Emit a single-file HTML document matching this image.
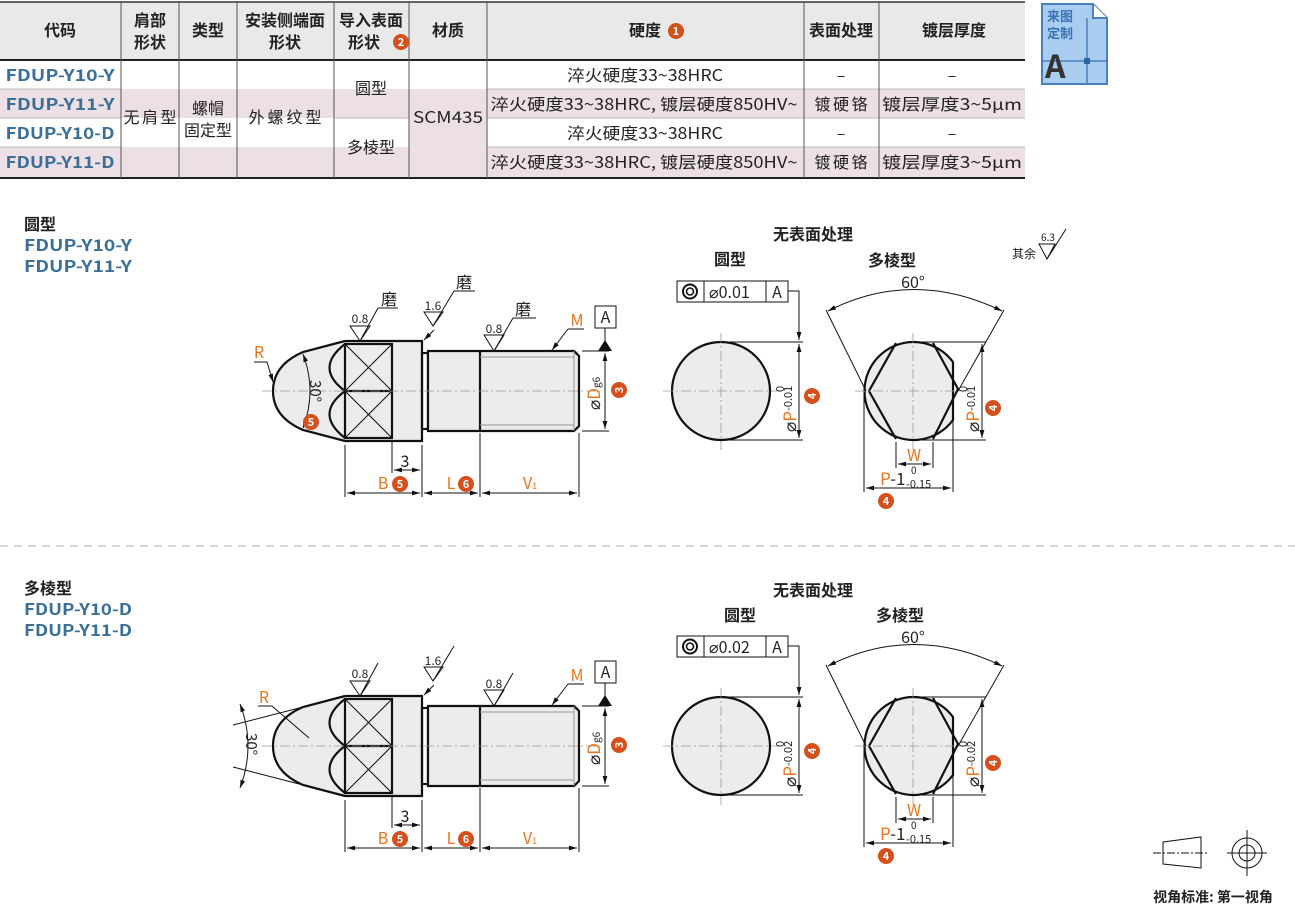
<!DOCTYPE html>
<html><head><meta charset="utf-8"><style>
html,body{margin:0;padding:0;background:#fff;}
svg{display:block;font-family:"Noto Sans CJK SC","Liberation Sans",sans-serif;}
.h{font-weight:bold;font-size:16px;fill:#222;}
.c{font-size:16px;fill:#222;}
.code{font-weight:bold;font-size:16px;fill:#3b6f98;}
.o{fill:#e8741c;}
.t{stroke:#111;stroke-width:1;fill:none;}
.th{stroke:#111;stroke-width:2.2;fill:none;}
.cl{stroke:#999;stroke-width:0.8;stroke-dasharray:10 3 2 3;fill:none;}
</style></head><body>
<svg width="1295" height="906" viewBox="0 0 1295 906" xmlns="http://www.w3.org/2000/svg">
<defs>
<marker id="ar" viewBox="0 0 10 10" refX="10" refY="5" markerWidth="8" markerHeight="8" orient="auto-start-reverse"><path d="M0,2 L10,5 L0,8 z" fill="#111"/></marker>
<g id="b"><circle r="8" fill="#d4501c"/></g>
</defs>

<!-- TABLE -->
<rect x="0" y="2" width="1025" height="58" fill="#e9e9e9"/>
<rect x="0" y="89" width="1025" height="29" fill="#ecdfe5"/>
<rect x="0" y="147" width="1025" height="30" fill="#ecdfe5"/>
<rect x="121" y="60" width="288" height="29" fill="#fff"/>
<rect x="409" y="118" width="78" height="29" fill="#ecdfe5"/>
<g stroke="#555" stroke-width="1">
<line x1="0" y1="2" x2="1025" y2="2" stroke="#333" stroke-width="1.5"/>
<line x1="0" y1="60" x2="1025" y2="60" stroke="#222" stroke-width="2"/>
<line x1="0" y1="178" x2="1025" y2="178" stroke="#222" stroke-width="2"/>
<line x1="0" y1="89" x2="121" y2="89" stroke="#bbb"/><line x1="0" y1="118" x2="121" y2="118" stroke="#bbb"/><line x1="0" y1="147" x2="121" y2="147" stroke="#bbb"/>
<line x1="487" y1="89" x2="1025" y2="89" stroke="#bbb"/><line x1="487" y1="118" x2="1025" y2="118" stroke="#bbb"/><line x1="487" y1="147" x2="1025" y2="147" stroke="#bbb"/>
<line x1="334" y1="118" x2="409" y2="118" stroke="#bbb"/>
<line x1="121" y1="2" x2="121" y2="178"/><line x1="179" y1="2" x2="179" y2="178"/><line x1="237" y1="2" x2="237" y2="178"/>
<line x1="334" y1="2" x2="334" y2="178"/><line x1="409" y1="2" x2="409" y2="178"/><line x1="487" y1="2" x2="487" y2="178"/>
<line x1="804" y1="2" x2="804" y2="178"/><line x1="879" y1="2" x2="879" y2="178"/>
</g>
<g text-anchor="middle">
<text class="h" x="60" y="36">代码</text>
<text class="h" x="150" y="26">肩部</text><text class="h" x="150" y="48">形状</text>
<text class="h" x="208" y="36">类型</text>
<text class="h" x="285" y="26">安装侧端面</text><text class="h" x="285" y="48">形状</text>
<text class="h" x="371" y="26">导入表面</text><text class="h" x="364" y="48">形状</text>
<text class="h" x="448" y="36">材质</text>
<text class="h" x="645" y="36">硬度</text>
<text class="h" x="841" y="36">表面处理</text>
<text class="h" x="954" y="36">镀层厚度</text>
<text class="code" x="60" y="81" textLength="109" lengthAdjust="spacingAndGlyphs">FDUP-Y10-Y</text>
<text class="code" x="60" y="110" textLength="109" lengthAdjust="spacingAndGlyphs">FDUP-Y11-Y</text>
<text class="code" x="60" y="139" textLength="109" lengthAdjust="spacingAndGlyphs">FDUP-Y10-D</text>
<text class="code" x="60" y="168" textLength="109" lengthAdjust="spacingAndGlyphs">FDUP-Y11-D</text>
<text class="c" x="150" y="123" textLength="53">无肩型</text>
<text class="c" x="208" y="114">螺帽</text><text class="c" x="208" y="136">固定型</text>
<text class="c" x="285" y="123" textLength="73">外螺纹型</text>
<text class="c" x="371" y="94">圆型</text>
<text class="c" x="371" y="153">多棱型</text>
<text class="c" x="448" y="123" textLength="70" lengthAdjust="spacingAndGlyphs">SCM435</text>
<text class="c" x="645" y="81" textLength="156" lengthAdjust="spacingAndGlyphs">淬火硬度33~38HRC</text>
<text class="c" x="644" y="110" textLength="307" lengthAdjust="spacingAndGlyphs">淬火硬度33~38HRC, 镀层硬度850HV~</text>
<text class="c" x="645" y="139" textLength="156" lengthAdjust="spacingAndGlyphs">淬火硬度33~38HRC</text>
<text class="c" x="644" y="168" textLength="307" lengthAdjust="spacingAndGlyphs">淬火硬度33~38HRC, 镀层硬度850HV~</text>
<text class="c" x="841" y="81">–</text><text class="c" x="841" y="110" textLength="53">镀硬铬</text><text class="c" x="841" y="139">–</text><text class="c" x="841" y="168" textLength="53">镀硬铬</text>
<text class="c" x="952" y="81">–</text><text class="c" x="952" y="110" textLength="140" lengthAdjust="spacingAndGlyphs">镀层厚度3~5μm</text><text class="c" x="952" y="139">–</text><text class="c" x="952" y="168" textLength="140" lengthAdjust="spacingAndGlyphs">镀层厚度3~5μm</text>
</g>
<use href="#b" x="401" y="42"/><text x="401" y="46" font-size="11" font-weight="bold" fill="#fff" text-anchor="middle">2</text>
<use href="#b" x="676" y="31"/><text x="676" y="35" font-size="11" font-weight="bold" fill="#fff" text-anchor="middle">1</text>

<!-- logo -->
<path d="M1042,4 H1093 L1107,18 V84 H1042 Z" fill="#a8cdef" stroke="#4b80c0" stroke-width="2"/>
<path d="M1093,4 V18 H1107" fill="#fff" stroke="#4b80c0" stroke-width="2"/>
<line x1="1042" y1="61" x2="1107" y2="61" stroke="#4b80c0" stroke-width="1.5"/>
<line x1="1087" y1="18" x2="1087" y2="84" stroke="#4b80c0" stroke-width="1.5"/>
<rect x="1084" y="58" width="6" height="6" fill="#2a62a8"/>
<text x="1047" y="21" font-size="13" font-weight="bold" fill="#3a72b8">来图</text>
<text x="1047" y="38" font-size="13" font-weight="bold" fill="#3a72b8">定制</text>
<text x="1045" y="78" font-size="32" font-weight="bold" fill="#333">A</text>

<!-- left labels -->
<text x="24" y="230" font-size="16" font-weight="bold" fill="#222">圆型</text>
<text x="24" y="251" class="code" textLength="108" lengthAdjust="spacingAndGlyphs">FDUP-Y10-Y</text>
<text x="24" y="272" class="code" textLength="108" lengthAdjust="spacingAndGlyphs">FDUP-Y11-Y</text>
<text x="24" y="594" font-size="16" font-weight="bold" fill="#222">多棱型</text>
<text x="24" y="615" class="code" textLength="108" lengthAdjust="spacingAndGlyphs">FDUP-Y10-D</text>
<text x="24" y="636" class="code" textLength="108" lengthAdjust="spacingAndGlyphs">FDUP-Y11-D</text>

<line x1="0" y1="546" x2="1295" y2="546" stroke="#aaa" stroke-width="1" stroke-dasharray="8 6"/>

<!-- PART body (top) -->
<g id="part">
<path d="M345,341 L303,352 Q273,365 273,391 Q273,417 303,430 L345,441 Z" fill="#ececec" stroke="none"/>
<path d="M345,341 L303,352 Q273,365 273,391 Q273,417 303,430 L345,441" class="th"/>
<rect x="345" y="341" width="77" height="100" fill="#ececec"/>
<rect x="422" y="353" width="6" height="76" fill="#ececec" class="th"/>
<rect x="428" y="351" width="151" height="80" fill="#ececec"/>
<path d="M345,341 H422 V441 H345" class="th"/>
<path d="M428,351 H574 L579,356 V426 L574,431 H428 Z" class="th"/>
<line x1="480" y1="351" x2="480" y2="431" class="th" stroke-width="1.5"/>
<line x1="480" y1="357" x2="574" y2="357" stroke="#999" stroke-width="1"/>
<line x1="480" y1="425" x2="574" y2="425" stroke="#999" stroke-width="1"/>
<line x1="574" y1="351" x2="574" y2="431" stroke="#999" stroke-width="1"/>
<rect x="345" y="344" width="47" height="94" class="th" stroke-width="1.8"/>
<line x1="345" y1="391" x2="392" y2="391" class="th" stroke-width="1.8"/>
<g class="t"><line x1="345" y1="344" x2="392" y2="391"/><line x1="392" y1="344" x2="345" y2="391"/><line x1="345" y1="391" x2="392" y2="438"/><line x1="392" y1="391" x2="345" y2="438"/></g>
<path d="M345,344 Q314,368 345,391 Q314,414 345,438" class="th"/>
<line x1="262" y1="391" x2="600" y2="391" class="cl"/>
<!-- dims -->
<g class="t">
<line x1="345" y1="445" x2="345" y2="497"/><line x1="422" y1="445" x2="422" y2="497"/><line x1="480" y1="433" x2="480" y2="497"/><line x1="579" y1="433" x2="579" y2="497"/>
<line x1="392" y1="440" x2="392" y2="473"/>
<line x1="347" y1="493" x2="420" y2="493" marker-start="url(#ar)" marker-end="url(#ar)"/>
<line x1="424" y1="493" x2="478" y2="493" marker-start="url(#ar)" marker-end="url(#ar)"/>
<line x1="482" y1="493" x2="577" y2="493" marker-start="url(#ar)" marker-end="url(#ar)"/>
<line x1="394" y1="470" x2="420" y2="470" marker-start="url(#ar)" marker-end="url(#ar)"/>
<line x1="582" y1="351" x2="609" y2="351"/><line x1="582" y1="431" x2="609" y2="431"/>
<line x1="605" y1="353" x2="605" y2="429" marker-start="url(#ar)" marker-end="url(#ar)"/>
</g>
<text x="405" y="467" font-size="16" fill="#222" text-anchor="middle">3</text>
<text x="383" y="489" font-size="16" class="o" text-anchor="middle">B</text>
<use href="#b" x="400" y="484"/><text x="400" y="488" font-size="11" font-weight="bold" fill="#fff" text-anchor="middle">5</text>
<text x="451" y="489" font-size="16" class="o" text-anchor="middle">L</text>
<use href="#b" x="466" y="484"/><text x="466" y="488" font-size="11" font-weight="bold" fill="#fff" text-anchor="middle">6</text>
<text x="530" y="489" font-size="16" class="o" text-anchor="middle">V<tspan font-size="9">1</tspan></text>
<text transform="translate(600,410) rotate(-90)" font-size="17" fill="#222">⌀<tspan class="o">D</tspan><tspan font-size="10">g6</tspan></text>
<use href="#b" x="619" y="390"/><text x="619" y="394" font-size="11" font-weight="bold" fill="#fff" text-anchor="middle" transform="rotate(-90 619 390)">3</text>
<rect x="595" y="306" width="21" height="22" fill="#fff" stroke="#111"/>
<text x="605.5" y="323" font-size="16" fill="#222" text-anchor="middle">A</text>
<line x1="605" y1="328" x2="605" y2="341" class="t"/>
<path d="M598,351 L605,340 L612,351 Z" fill="#111"/>
<!-- 0.8 shank -->
<path d="M484,335 L494,351 L504,335 Z" class="t"/><line x1="494" y1="351" x2="513" y2="318" class="t"/>
<text x="494" y="333" font-size="12" fill="#222" text-anchor="middle">0.8</text>
<!-- 1.6 -->
<path d="M424,312 L433,326 L443,312 Z" class="t"/><line x1="433" y1="326" x2="454" y2="291" class="t"/>
<text x="433" y="310" font-size="12" fill="#222" text-anchor="middle">1.6</text>
<line x1="434" y1="330" x2="424" y2="340" class="t" marker-end="url(#ar)"/>
<!-- 0.8 head -->
<path d="M350,326 L360,341 L370,326 Z" class="t"/><line x1="360" y1="341" x2="378" y2="308" class="t"/>
<text x="360" y="323" font-size="12" fill="#222" text-anchor="middle">0.8</text>
<!-- M -->
<text x="577" y="326" font-size="16" class="o" text-anchor="middle">M</text>
<line x1="568" y1="329" x2="584" y2="329" class="t"/><line x1="568" y1="329" x2="552" y2="350" class="t" marker-end="url(#ar)"/>
</g>

<!-- top-only annotations -->
<line x1="378" y1="308" x2="398" y2="308" class="t"/><text x="389" y="305" font-size="16" fill="#222" text-anchor="middle">磨</text>
<line x1="454" y1="291" x2="475" y2="291" class="t"/><text x="464" y="288" font-size="16" fill="#222" text-anchor="middle">磨</text>
<line x1="513" y1="318" x2="536" y2="318" class="t"/><text x="523" y="315" font-size="16" fill="#222" text-anchor="middle">磨</text>
<text x="259" y="358" font-size="16" class="o" text-anchor="middle">R</text>
<path d="M254,362 H267 L273,382" class="t" marker-end="url(#ar)"/>
<path d="M303,354 Q317,391 303,428" class="t" marker-start="url(#ar)" marker-end="url(#ar)"/>
<text transform="translate(310,380) rotate(90)" font-size="15" fill="#222">30°</text>
<use href="#b" x="311" y="422"/><text x="311" y="426" font-size="11" font-weight="bold" fill="#fff" text-anchor="middle">5</text>

<!-- bottom part -->
<use href="#part" y="355"/>
<text x="264" y="703" font-size="16" class="o" text-anchor="middle">R</text>
<path d="M258,706 H272 L309,738" class="t"/>
<g class="t">
<line x1="303" y1="707" x2="233" y2="725"/><line x1="303" y1="785" x2="233" y2="767"/>
<path d="M240,704 Q256,746 240,788" marker-start="url(#ar)" marker-end="url(#ar)"/>
</g>
<text transform="translate(246,733) rotate(90)" font-size="15" fill="#222">30°</text>

<!-- RIGHT VIEWS top -->
<g id="rv">
<circle cx="721" cy="391" r="49" fill="#ececec" stroke="#111" stroke-width="2.2"/>
<line x1="663" y1="391" x2="780" y2="391" class="cl"/><line x1="721" y1="333" x2="721" y2="450" class="cl"/>
<rect x="677" y="281" width="111" height="21" fill="#fff" stroke="#111"/>
<line x1="704" y1="281" x2="704" y2="302" stroke="#111"/><line x1="766" y1="281" x2="766" y2="302" stroke="#111"/>
<circle cx="690" cy="291.5" r="7" fill="none" stroke="#111" stroke-width="2"/><circle cx="690" cy="291.5" r="3.5" fill="none" stroke="#111" stroke-width="1.6"/>
<text x="777" y="298" font-size="16" fill="#222" text-anchor="middle">A</text>
<path d="M788,291 H799 V340" class="t" marker-end="url(#ar)"/>
<line x1="721" y1="342" x2="803" y2="342" class="t"/><line x1="721" y1="440" x2="803" y2="440" class="t"/>
<line x1="799" y1="344" x2="799" y2="438" class="t" marker-start="url(#ar)" marker-end="url(#ar)"/>
<use href="#b" x="812" y="396"/><text x="812" y="400" font-size="11" font-weight="bold" fill="#fff" text-anchor="middle" transform="rotate(-90 812 396)">4</text>
<!-- hex -->
<path d="M953,362 A49,49 0 1 0 953,420 Z" fill="#ececec" stroke="#111" stroke-width="2.2"/>
<path d="M896,343 L869,391 L896,439 M933,343 L958,389 L933,439" class="th"/>
<line x1="855" y1="391" x2="972" y2="391" class="cl"/><line x1="913" y1="333" x2="913" y2="450" class="cl"/>
<g class="t">
<line x1="913" y1="342" x2="986" y2="342"/><line x1="913" y1="440" x2="986" y2="440"/>
<line x1="982" y1="344" x2="982" y2="438" marker-start="url(#ar)" marker-end="url(#ar)"/>
<line x1="866" y1="391" x2="826" y2="310"/><line x1="958" y1="391" x2="1004" y2="310"/>
<path d="M828,311 Q913,268 1002,311" marker-start="url(#ar)" marker-end="url(#ar)"/>
<line x1="896" y1="442" x2="896" y2="468"/><line x1="933" y1="442" x2="933" y2="468"/>
<line x1="898" y1="464" x2="931" y2="464" marker-start="url(#ar)" marker-end="url(#ar)"/>
<line x1="864" y1="393" x2="864" y2="492"/><line x1="953" y1="420" x2="953" y2="492"/>
<line x1="866" y1="488" x2="951" y2="488" marker-start="url(#ar)" marker-end="url(#ar)"/>
</g>
<text x="913" y="288" font-size="16" fill="#222" text-anchor="middle">60°</text>
<text x="914" y="461" font-size="16" class="o" text-anchor="middle">W</text>
<text x="880" y="485" font-size="17" fill="#222"><tspan class="o">P</tspan>-1</text>
<text x="911" y="474" font-size="10" fill="#222">0</text>
<text x="906" y="488" font-size="11" fill="#222">-0.15</text>
<use href="#b" x="886" y="501"/><text x="886" y="505" font-size="11" font-weight="bold" fill="#fff" text-anchor="middle">4</text>
<use href="#b" x="993" y="408"/><text x="993" y="412" font-size="11" font-weight="bold" fill="#fff" text-anchor="middle" transform="rotate(-90 993 408)">4</text>
</g>
<text x="813" y="240" font-size="16" font-weight="bold" fill="#222" text-anchor="middle">无表面处理</text>
<text x="730" y="265" font-size="16" font-weight="bold" fill="#222" text-anchor="middle">圆型</text>
<text x="892" y="266" font-size="16" font-weight="bold" fill="#222" text-anchor="middle">多棱型</text>
<text x="709" y="298" font-size="16" fill="#222">⌀0.01</text>
<text transform="translate(796,432) rotate(-90)" font-size="17" fill="#222">⌀<tspan class="o">P</tspan><tspan font-size="11" dy="-4">-0.01</tspan></text>
<text transform="translate(784,392) rotate(-90)" font-size="11" fill="#222">0</text>
<text transform="translate(979,432) rotate(-90)" font-size="17" fill="#222">⌀<tspan class="o">P</tspan><tspan font-size="11" dy="-4">-0.01</tspan></text>
<text transform="translate(967,392) rotate(-90)" font-size="11" fill="#222">0</text>

<use href="#rv" y="355"/>
<text x="813" y="596" font-size="16" font-weight="bold" fill="#222" text-anchor="middle">无表面处理</text>
<text x="740" y="621" font-size="16" font-weight="bold" fill="#222" text-anchor="middle">圆型</text>
<text x="900" y="621" font-size="16" font-weight="bold" fill="#222" text-anchor="middle">多棱型</text>
<text x="709" y="653" font-size="16" fill="#222">⌀0.02</text>
<text transform="translate(796,787) rotate(-90)" font-size="17" fill="#222">⌀<tspan class="o">P</tspan><tspan font-size="11" dy="-4">-0.02</tspan></text>
<text transform="translate(784,747) rotate(-90)" font-size="11" fill="#222">0</text>
<text transform="translate(979,787) rotate(-90)" font-size="17" fill="#222">⌀<tspan class="o">P</tspan><tspan font-size="11" dy="-4">-0.02</tspan></text>
<text transform="translate(967,747) rotate(-90)" font-size="11" fill="#222">0</text>

<!-- 其余 -->
<text x="1012" y="258" font-size="12" fill="#222">其余</text>
<path d="M1039,244 L1047,259 L1055,244 Z M1047,259 L1066,229" class="t"/>
<text x="1048" y="241" font-size="10" fill="#222" text-anchor="middle">6.3</text>

<!-- view standard -->
<g class="t" stroke-width="1">
<path d="M1163,842 L1201,837 L1201,868 L1163,864 Z"/>
<line x1="1153" y1="853" x2="1208" y2="853" stroke-dasharray="8 2 2 2"/>
<circle cx="1247" cy="853" r="15"/><circle cx="1247" cy="853" r="8"/>
<line x1="1227" y1="853" x2="1267" y2="853"/><line x1="1247" y1="830" x2="1247" y2="876"/>
</g>
<text x="1213" y="902" font-size="14" font-weight="bold" fill="#222" text-anchor="middle">视角标准: 第一视角</text>
</svg>
</body></html>
